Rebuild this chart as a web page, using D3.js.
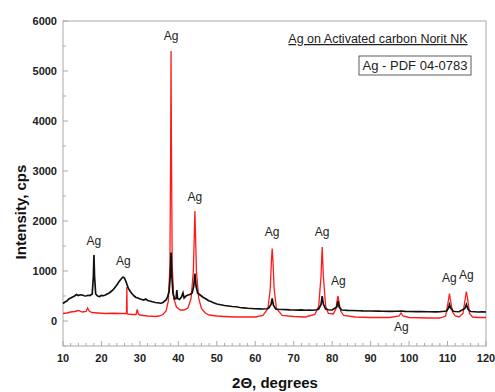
<!DOCTYPE html>
<html>
<head>
<meta charset="utf-8">
<script src="https://cdn.jsdelivr.net/npm/d3@7/dist/d3.min.js"></script>
<style>
  body { margin: 0; background: #fff; }
  svg text { font-family: "Liberation Sans", Arial, sans-serif; }
</style>
</head>
<body>
<script>
// sample on carbon (black) - 2theta / intensity
var blackTheta = [10,10.5,11,11.5,12,12.5,13,13.5,14,14.5,15,15.5,16,16.5,17,17.6,17.9,18.05,18.2,18.5,19,19.5,20,20.5,21,21.5,22,22.5,23,23.5,24,24.5,25,25.6,26,26.5,27,27.5,28,28.5,29,29.5,30,30.5,31,31.5,32,32.5,33,33.5,34,34.5,35,35.5,36,36.8,37.2,37.6,37.9,38.1,38.3,38.6,39,39.4,39.6,39.8,40.3,40.8,41.2,41.5,42,42.5,43,43.6,44,44.3,44.6,45,45.5,46,46.5,47,47.5,48,48.5,49,49.5,50,51,52,53,54,55,56,57,58,59,60,61,62,63,63.5,64.1,64.4,64.7,65.3,66,67,68,69,70,71,72,73,74,75,76,76.5,77.1,77.4,77.7,78.3,79,80,81.2,81.5,81.8,82.5,84,85,87,88,90,92,93,95,97,97.9,99,100,102,103,105,107,108,109.8,110.3,110.5,110.8,111.5,112,113,114.5,114.9,115.3,116,117,118,119,120];
var blackInt = [350,380,400,440,460,480,500,530,510,525,520,505,500,515,510,540,900,1320,900,540,500,490,510,505,520,540,560,590,620,670,720,780,830,880,860,760,650,590,540,500,470,460,440,430,420,440,410,400,390,380,370,365,360,355,370,420,480,600,900,1370,900,550,440,450,620,450,430,480,560,460,500,520,530,560,700,950,700,560,530,500,470,450,425,400,390,370,355,340,325,310,300,290,285,270,262,255,250,245,242,240,245,260,330,450,320,240,235,230,228,222,220,218,222,215,218,215,225,240,330,500,340,240,225,220,280,400,280,220,212,210,205,202,200,198,195,193,195,200,192,190,188,186,185,183,185,200,270,330,260,195,190,185,250,330,240,190,185,180,182,180];

// Ag reference (red)
var redTheta = [10,11,12,13,14,15,16,16.4,16.8,17.5,19,21,23,25,26.5,26.6,26.7,28,29,29.3,29.6,30,32,34,35,36,36.8,37.4,37.8,38.0,38.1,38.2,38.4,38.8,39.5,40.5,41.5,42.5,43.3,43.9,44.2,44.3,44.4,44.7,45.3,46,47,48,50,52,55,58,60,62,63.3,63.9,64.2,64.4,64.6,64.9,65.5,67,70,73,75.5,76.5,77.1,77.4,77.7,78.3,79,80.3,81,81.4,81.5,81.7,82.2,83,86,90,95,97.4,97.9,98.4,100,105,108,109.5,110.2,110.5,110.8,111.3,112,113,114,114.6,114.9,115.2,115.7,116.5,118,120];
var redInt = [150,160,180,190,210,180,190,260,200,170,160,150,155,150,150,680,140,130,130,230,140,120,100,90,100,130,200,400,1100,3500,5400,3500,1100,450,280,220,220,260,450,1000,1900,2200,1900,1000,450,250,160,120,100,90,80,80,80,110,250,650,1200,1450,1200,650,250,110,90,80,130,300,900,1480,900,300,150,140,250,470,500,420,200,110,80,70,70,100,160,100,70,60,60,100,400,550,400,180,100,80,150,450,590,450,150,80,70,70];

// peak labels
var agLabelTheta = [18.05, 25.7, 38.1, 44.3, 64.4, 77.4, 81.6, 98.0, 110.5, 114.9];
var agLabelInt = [1520, 1120, 5620, 2400, 1700, 1700, 720, -200, 780, 840];

var xTicks = [10,20,30,40,50,60,70,80,90,100,110,120];
var yTicks = [0,1000,2000,3000,4000,5000,6000];

var W = 495, H = 392;
var svg = d3.select("body").append("svg").attr("width", W).attr("height", H);

var x = d3.scaleLinear().domain([10, 120]).range([63, 486]);
var y = d3.scaleLinear().domain([-500, 6000]).range([346, 21]);

// frame
svg.append("rect")
    .attr("x", 63).attr("y", 21)
    .attr("width", 486 - 63).attr("height", 346 - 21)
    .attr("fill", "none").attr("stroke", "#b8b8b8").attr("stroke-width", 1.2);

// x ticks (inward), minor every 2
var xMinor = d3.range(12, 120, 2).filter(function(v) { return v % 10 != 0; });
svg.append("g").selectAll("line").data(xMinor).enter().append("line")
    .attr("x1", d => x(d)).attr("x2", d => x(d))
    .attr("y1", 346).attr("y2", 343)
    .attr("stroke", "#aaa");
svg.append("g").selectAll("line").data(xTicks).enter().append("line")
    .attr("x1", d => x(d)).attr("x2", d => x(d))
    .attr("y1", 346).attr("y2", 341)
    .attr("stroke", "#aaa");
svg.append("g").selectAll("text").data(xTicks).enter().append("text")
    .attr("x", d => x(d)).attr("y", 362)
    .attr("text-anchor", "middle")
    .attr("font-size", 11).attr("font-weight", "bold").attr("fill", "#222")
    .text(d => d);

// y ticks
var yMinor = d3.range(-500, 6000, 1000);
svg.append("g").selectAll("line").data(yMinor).enter().append("line")
    .attr("x1", 63).attr("x2", 66)
    .attr("y1", d => y(d)).attr("y2", d => y(d))
    .attr("stroke", "#aaa");
svg.append("g").selectAll("line").data(yTicks).enter().append("line")
    .attr("x1", 63).attr("x2", 68)
    .attr("y1", d => y(d)).attr("y2", d => y(d))
    .attr("stroke", "#aaa");
svg.append("g").selectAll("text").data(yTicks).enter().append("text")
    .attr("x", 57).attr("y", d => y(d) + 4)
    .attr("text-anchor", "end")
    .attr("font-size", 11).attr("font-weight", "bold").attr("fill", "#222")
    .text(d => d);

// axis titles
svg.append("text")
    .attr("transform", "translate(26,212) rotate(-90)")
    .attr("text-anchor", "middle")
    .attr("font-size", 15).attr("font-weight", "bold").attr("fill", "#111")
    .text("Intensity, cps");
svg.append("text")
    .attr("x", 275).attr("y", 388)
    .attr("text-anchor", "middle")
    .attr("font-size", 15).attr("font-weight", "bold").attr("fill", "#111")
    .text("2\u0398, degrees");

var line = d3.line().x(d => x(d[0])).y(d => y(d[1]));

svg.append("path")
    .datum(redTheta.map((t, i) => [t, redInt[i]]))
    .attr("d", line)
    .attr("fill", "none").attr("stroke", "#ff1a1a").attr("stroke-width", 1.3);

svg.append("path")
    .datum(blackTheta.map((t, i) => [t, blackInt[i]]))
    .attr("d", line)
    .attr("fill", "none").attr("stroke", "#111").attr("stroke-width", 1.7);

// Ag labels
svg.append("g").selectAll("text").data(agLabelTheta).enter().append("text")
    .attr("x", d => x(d)).attr("y", (d, i) => y(agLabelInt[i]))
    .attr("text-anchor", "middle")
    .attr("font-size", 12).attr("fill", "#222")
    .text("Ag");

// annotations
svg.append("text")
    .attr("x", 378).attr("y", 43)
    .attr("text-anchor", "middle")
    .attr("font-size", 12.5).attr("fill", "#222")
    .attr("text-decoration", "underline")
    .text("Ag on Activated carbon Norit NK");
svg.append("rect")
    .attr("x", 359).attr("y", 56).attr("width", 112).attr("height", 19)
    .attr("fill", "#fff").attr("stroke", "#333").attr("stroke-width", 0.8);
svg.append("text")
    .attr("x", 415).attr("y", 70)
    .attr("text-anchor", "middle")
    .attr("font-size", 13).attr("fill", "#222")
    .text("Ag - PDF 04-0783");
</script>
</body>
</html>
